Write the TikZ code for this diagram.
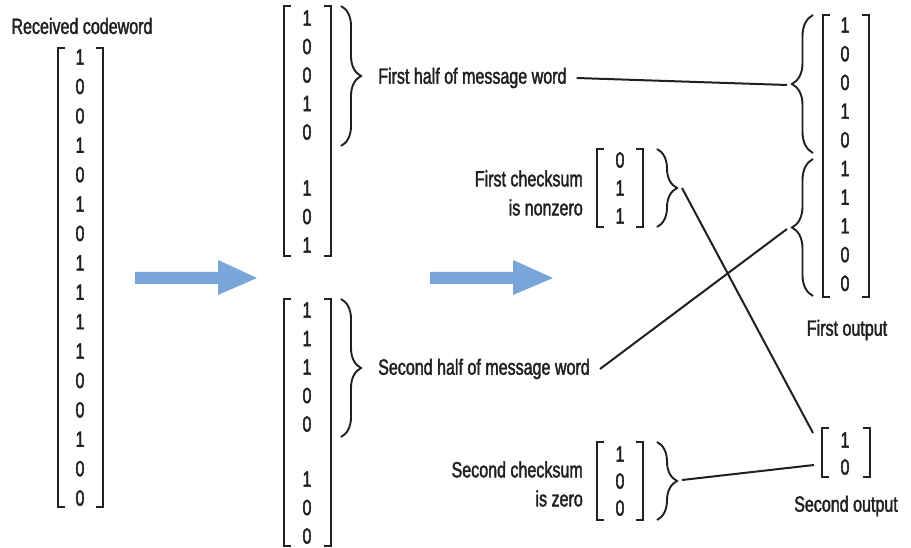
\documentclass[tikz,border=0pt]{standalone}
\usepackage{fontspec}
\setmainfont{Liberation Sans}[FakeStretch=0.73,FakeBold=1.8]
\usetikzlibrary{decorations.pathreplacing}
\definecolor{ink}{RGB}{35,31,32}
\definecolor{arrowblue}{RGB}{122,165,216}
\newcommand\mybrackets[4]{%
  \draw[brk] ({#1+7},#3) -- (#1,#3) -- (#1,#4) -- ({#1+7},#4);
  \draw[brk] ({#2-7},#3) -- (#2,#3) -- (#2,#4) -- ({#2-7},#4);}
\begin{document}
\begin{tikzpicture}[x=1pt,y=-1pt,
  every node/.style={inner sep=0pt, text=ink, font=\fontsize{22}{29}\selectfont},
  brk/.style={draw=ink, line width=2.3pt, line cap=butt, line join=miter},
  brc/.style={draw=ink, line width=1.9pt, decorate, decoration={brace, amplitude=20pt, aspect=0.5}},
  conn/.style={draw=ink, line width=2pt},
  bigarrow/.style={fill=arrowblue}]
\useasboundingbox (0,0) rectangle (911,548);

% received codeword
\node (rc) at (82,26) {Received codeword};
\foreach \v [count=\i] in {1,0,0,1,0,1,0,1,1,1,1,0,0,1,0,0}
  \node (L\i) at (80,{57+29.4*(\i-1)}) {\v};
\mybrackets{58}{103}{48}{507}

% arrows
\fill[bigarrow] (135,272) -- (218,272) -- (218,260) -- (257,278) -- (218,295) -- (218,284) -- (135,284) -- cycle;
\fill[bigarrow] (430,272) -- (513,272) -- (513,260) -- (553,278) -- (513,295) -- (513,284) -- (430,284) -- cycle;

% upper middle
\foreach \v/\y [count=\i] in {1/18,0/46.5,0/75,1/103.5,0/132,1/188,0/216.5,1/245}
  \node (U\i) at (307,\y) {\v};
\mybrackets{284}{331}{6}{256}
\draw[brc] (341,6) -- (341,146);

% lower middle
\foreach \v/\y [count=\i] in {1/310,1/338.5,1/367,0/395.5,0/424,1/479,0/507.5,0/536}
  \node (D\i) at (307,\y) {\v};
\mybrackets{284}{331}{299}{546}
\draw[brc] (341,299) -- (341,437);

% labels
\node[anchor=west, inner xsep=10pt] (fh) at (368,78) {First half of message word};
\node[anchor=west, inner xsep=10pt] (sh) at (368,369) {Second half of message word};
\node[anchor=east, align=right] (fc) at (583,193) {First checksum\\is nonzero};
\node[anchor=east, align=right] (sc) at (583,484) {Second checksum\\is zero};

% first checksum
\foreach \v/\y [count=\i] in {0/160,1/188,1/216}
  \node (C\i) at (620,\y) {\v};
\mybrackets{597}{643}{149}{227}
\draw[brc] (657,149) -- (657,227);

% second checksum
\foreach \v/\y [count=\i] in {1/454,0/481,0/508}
  \node (S\i) at (620,\y) {\v};
\mybrackets{597}{643}{442}{520}
\draw[brc] (657,442) -- (657,520);

% first output
\foreach \v [count=\i] in {1,0,0,1,0,1,1,1,0,0}
  \node (O\i) at (845,{25+28.7*(\i-1)}) {\v};
\mybrackets{823}{869}{15}{297}
\draw[brc, decoration={amplitude=21pt}] (813,153) -- (813,15);
\draw[brc, decoration={amplitude=21pt}] (813,296) -- (813,159);
\node (fo) at (847,330) {First output};

% second output
\foreach \v/\y [count=\i] in {1/440,0/467}
  \node (T\i) at (845,\y) {\v};
\mybrackets{822}{870}{428}{477}
\node (so) at (846,506) {Second output};

% connector ends
\coordinate (ob1) at (787,85);
\coordinate (ob2) at (787,229);
\coordinate (fcb) at (682,188);
\coordinate (scb) at (682,480);
\coordinate (so1) at (813,433);
\coordinate (so2) at (814,465);

\draw[conn] (fh.east) -- (ob1);
\draw[conn] (sh.east) -- (ob2);
\draw[conn] (fcb) -- (so1);
\draw[conn] (scb) -- (so2);
\end{tikzpicture}
\end{document}
